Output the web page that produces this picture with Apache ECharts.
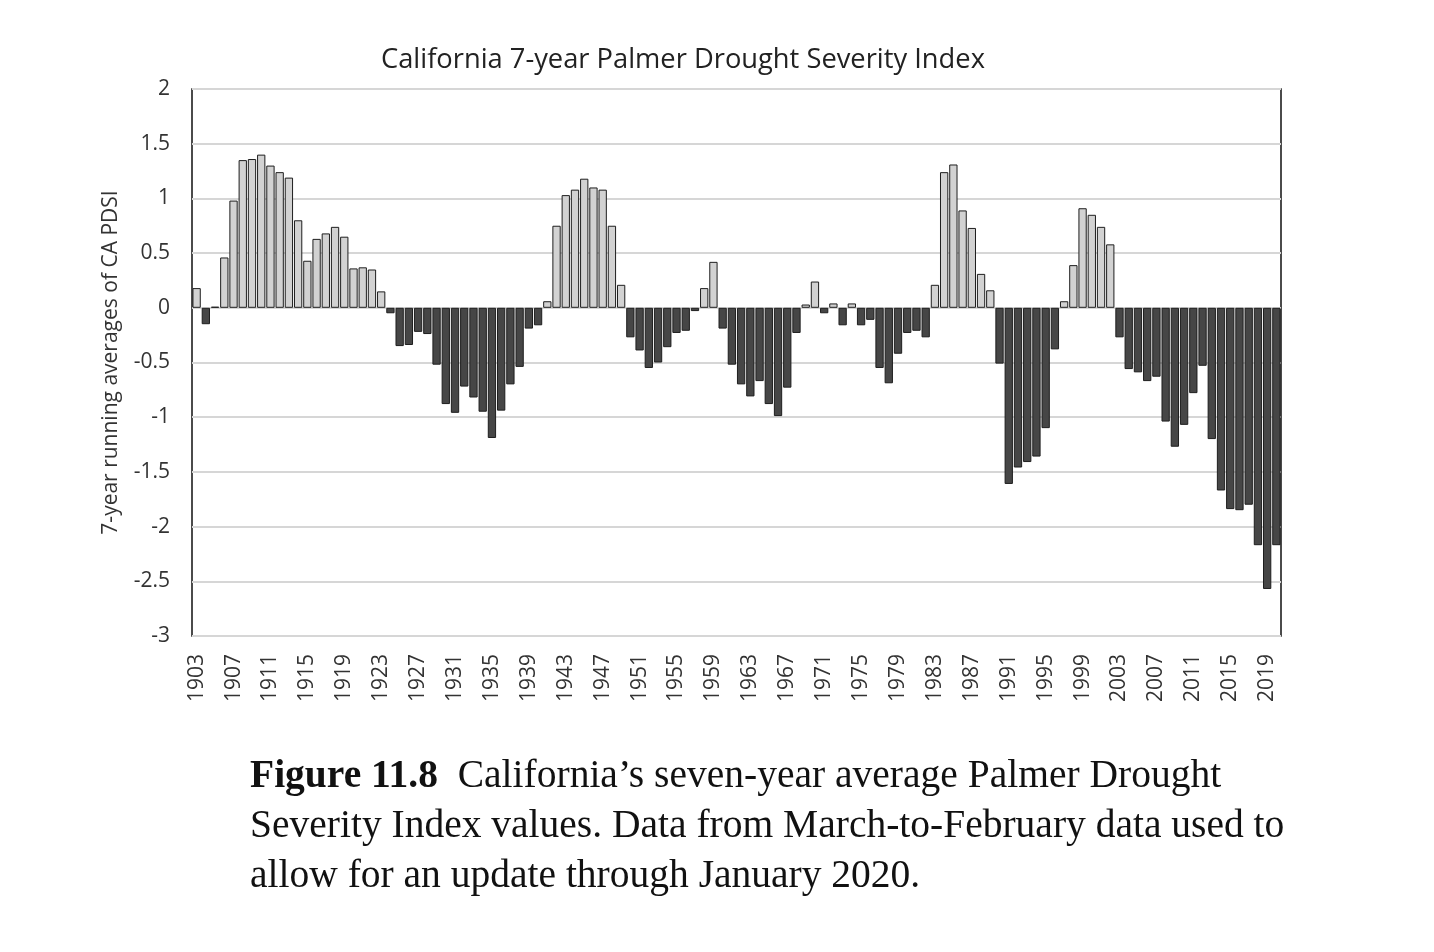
<!DOCTYPE html>
<html>
<head>
<meta charset="utf-8">
<script src="https://cdn.jsdelivr.net/npm/echarts@6/dist/echarts.min.js"></script>
<style>
html,body{margin:0;padding:0;background:#fff;}
#chart{width:1434px;height:952px;}
</style>
</head>
<body>
<div id="chart"></div>
<script>
const titleText = 'California 7-year Palmer Drought Severity Index';
const yAxisName = '7-year running averages of CA PDSI';
const captionLines = [
  ['Figure 11.8', '  California’s seven-year average Palmer Drought'],
  ['', 'Severity Index values. Data from March-to-February data used to'],
  ['', 'allow for an update through January 2020.']
];
const startYear = 1903;
const endYear = 2020;
const years = [];
for (let y = startYear; y <= endYear; y++) years.push(String(y));

const pdsi1903to1939 = [
  0.18, -0.15, 0.01, 0.46, 0.98, 1.35, 1.36, 1.40, 1.30, 1.24,
  1.19, 0.80, 0.43, 0.63, 0.68, 0.74, 0.65, 0.36, 0.37, 0.35,
  0.15, -0.05, -0.35, -0.34, -0.22, -0.24, -0.52, -0.88, -0.96, -0.72,
  -0.82, -0.95, -1.19, -0.94, -0.70, -0.54, -0.19
];
const pdsi1940to1979 = [
  -0.16, 0.06, 0.75, 1.03, 1.08, 1.18, 1.10, 1.08, 0.75, 0.21,
  -0.27, -0.39, -0.55, -0.50, -0.36, -0.23, -0.21, -0.03, 0.18, 0.42,
  -0.19, -0.52, -0.70, -0.81, -0.67, -0.88, -0.99, -0.73, -0.23, 0.03,
  0.24, -0.05, 0.04, -0.16, 0.04, -0.16, -0.11, -0.55, -0.69, -0.42
];
const pdsi1980to2020 = [
  -0.23, -0.21, -0.27, 0.21, 1.24, 1.31, 0.89, 0.73, 0.31, 0.16,
  -0.51, -1.61, -1.46, -1.41, -1.36, -1.10, -0.38, 0.06, 0.39, 0.91,
  0.85, 0.74, 0.58, -0.27, -0.56, -0.59, -0.67, -0.63, -1.04, -1.27,
  -1.07, -0.78, -0.53, -1.20, -1.67, -1.84, -1.85, -1.80, -2.17, -2.57,
  -2.17
];
const pdsiValues = pdsi1903to1939.concat(pdsi1940to1979, pdsi1980to2020);

const posStyle = { color: '#d2d2d2', borderColor: '#1e1e1e', borderWidth: 1 };
const negStyle = { color: '#464646', borderColor: '#1e1e1e', borderWidth: 1 };

const chart = echarts.init(document.getElementById('chart'), null, { renderer: 'canvas' });
const FONT = 'Open Sans';

const captionX = 250;
const captionY = [757, 807, 857];
const graphics = captionLines.map((ln, i) => ({
  type: 'text',
  left: captionX,
  top: captionY[i],
  style: {
    text: (ln[0] ? '{b|' + ln[0] + '}' : '') + '{n|' + ln[1] + '}',
    rich: {
      b: { fontFamily: 'Liberation Serif', fontSize: 39.5, fontWeight: 'bold', fill: '#111', color: '#111' },
      n: { fontFamily: 'Liberation Serif', fontSize: 39.5, fill: '#111', color: '#111' }
    }
  }
}));

chart.setOption({
  backgroundColor: '#fff',
  animation: false,
  textStyle: { fontFamily: FONT },
  title: {
    text: titleText,
    left: 376,
    top: 42,
    textStyle: { fontFamily: FONT, fontSize: 27.3, fontWeight: 'normal', color: '#222' }
  },
  grid: {
    left: 192, right: 153, top: 89, bottom: 316,
    show: true, borderColor: '#111', borderWidth: 1.5, backgroundColor: 'transparent'
  },
  xAxis: {
    type: 'category',
    data: years,
    boundaryGap: true,
    axisLine: { show: false },
    axisTick: { show: false },
    axisLabel: { interval: 3, rotate: 90, fontSize: 21, color: '#333', margin: 18, fontFamily: FONT },
    splitLine: { show: false }
  },
  yAxis: {
    type: 'value',
    min: -3, max: 2, interval: 0.5,
    name: yAxisName,
    nameLocation: 'middle',
    nameRotate: 90,
    nameGap: 70,
    nameTextStyle: { fontSize: 21, color: '#333', fontFamily: FONT },
    axisLine: { show: false },
    axisTick: { show: false },
    axisLabel: { fontSize: 21, color: '#333', margin: 22, fontFamily: FONT },
    splitLine: { show: true, lineStyle: { color: '#d6d6d6', width: 2 } }
  },
  series: [{
    type: 'bar',
    data: pdsiValues.map(v => ({ value: v, itemStyle: v >= 0 ? posStyle : negStyle })),
    barCategoryGap: '10%'
  }],
  graphic: graphics
});
</script>
</body>
</html>
